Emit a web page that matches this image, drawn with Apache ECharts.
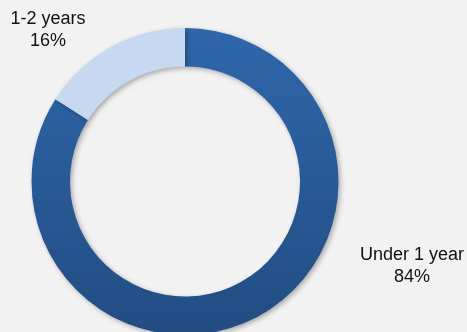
<!DOCTYPE html>
<html>
<head>
<meta charset="utf-8">
<script src="https://cdn.jsdelivr.net/npm/echarts@6/dist/echarts.min.js"></script>
<style>
	html, body { margin: 0; padding: 0; background: #f2f2f2; }
	#chart { width: 467px; height: 332px; }
</style>
</head>
<body>
<div id="chart"></div>
<script>
const categories = ["Under 1 year", "1-2 years"]
const shares = [84, 16]

// label anchor points (x, y) per slice
const labelSpots = [
	[412, 266],
	[48, 30],
]

const chartInstance = echarts.init(document.getElementById("chart"))

const darkBlue = new echarts.graphic.LinearGradient(0, 0, 0, 1, [
	{ offset: 0, color: "#2f67ab" },
	{ offset: 1, color: "#224c82" },
])
const sliceColors = [darkBlue, "#c6d9f0"]

let options = {
	backgroundColor: "#f2f2f2",
	animation: false,
	series: [
		{
			type: "pie",
			center: [185, 181.5],
			radius: [115, 153.5],
			startAngle: 90,
			clockwise: true,
			itemStyle: {
				shadowBlur: 5,
				shadowOffsetX: 2,
				shadowOffsetY: 2,
				shadowColor: "rgba(0,0,0,0.3)",
			},
			label: {
				show: true,
				position: "outside",
				formatter: "{b}\n{d}%",
				fontFamily: "Liberation Sans, Arial, sans-serif",
				fontSize: 18,
				lineHeight: 22,
				color: "#111",
				align: "center",
				overflow: "none",
				width: 140,
			},
			labelLine: { show: false },
			labelLayout: (params) => {
				const spot = labelSpots[params.dataIndex]
				return { x: spot[0], y: spot[1], align: "center", verticalAlign: "middle" }
			},
			emphasis: { disabled: true },
			data: categories.map((name, i) => ({
				name: name,
				value: shares[i],
				itemStyle: { color: sliceColors[i] },
			})),
		},
	],
}

chartInstance.setOption(options)
</script>
</body>
</html>
